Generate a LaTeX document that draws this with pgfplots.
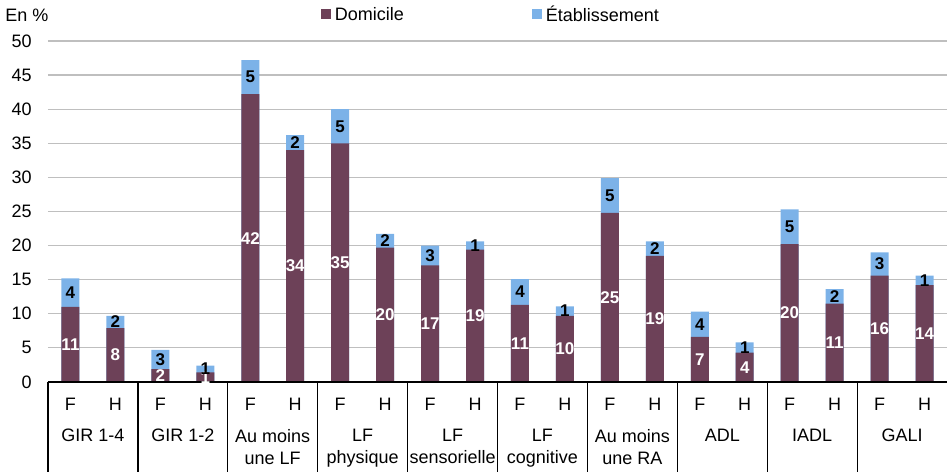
\documentclass[border=0pt]{standalone}
\usepackage{fontspec}
\setmainfont{Liberation Sans}
\usepackage{pgfplots}
\usepackage{pgfplotstable}
\pgfplotsset{compat=1.18}
\definecolor{dom}{RGB}{109,65,88}
\definecolor{etab}{RGB}{124,178,232}
\definecolor{gridc}{RGB}{191,191,191}

\pgfplotstableread{
x dom etab ld le
0 11.0 4.2 11 4
1 7.9 1.8 8 2
2 1.9 2.8 2 3
3 1.4 1.0 1 1
4 42.2 5.0 42 5
5 34.0 2.2 34 2
6 35.0 5.0 35 5
7 19.7 2.0 20 2
8 17.1 2.9 17 3
9 19.4 1.2 19 1
10 11.3 3.8 11 4
11 9.7 1.4 10 1
12 24.8 5.1 25 5
13 18.5 2.1 19 2
14 6.6 3.7 7 4
15 4.3 1.5 4 1
16 20.2 5.1 20 5
17 11.5 2.1 11 2
18 15.6 3.4 16 3
19 14.2 1.4 14 1
}\data

\begin{document}
\begin{tikzpicture}
\begin{axis}[
  name=ax,
  width=449.5pt, height=170.5pt, scale only axis,
  xmin=-0.5, xmax=19.5, ymin=0, ymax=50,
  clip=false,
  axis line style={draw=none},
  major tick length=0pt,
  ytick={0,5,...,50},
  ymajorgrids, major grid style={gridc, line width=0.6pt},
  xtick={0,...,19},
  xticklabels={F,H,F,H,F,H,F,H,F,H,F,H,F,H,F,H,F,H,F,H},
  xticklabel style={yshift=-4.7pt},
  yticklabel style={inner sep=0pt, xshift=-8pt},
  tick label style={font=\fontsize{9}{11}\selectfont},
  /pgf/number format/assume math mode=true,
  legend style={draw=none, fill=none, at={(0.4939,1.0748)}, anchor=center,
    font=\fontsize{9}{11}\selectfont,
    /tikz/every even column/.append style={column sep=62pt}},
  legend columns=2,
]
\addplot[ybar, bar width=9pt, bar shift=0pt, fill=etab, draw=none, forget plot]
  table[x=x, y expr=\thisrow{dom}+\thisrow{etab}] {\data};
\addplot[ybar, bar width=9pt, bar shift=0pt, fill=dom, draw=none, forget plot]
  table[x=x, y=dom] {\data};
\addplot[draw=none, mark=none, forget plot, nodes near coords, point meta=explicit symbolic,
  every node near coord/.append style={anchor=center, inner sep=0pt, text=white,
    font=\bfseries\fontsize{8.5}{10}\selectfont}]
  table[x=x, y expr=\thisrow{dom}/2, meta=ld] {\data};
\addplot[draw=none, mark=none, forget plot, nodes near coords, point meta=explicit symbolic,
  every node near coord/.append style={anchor=center, inner sep=0pt, text=black,
    font=\bfseries\fontsize{8.5}{10}\selectfont}]
  table[x=x, y expr=\thisrow{dom}+\thisrow{etab}/2, meta=le] {\data};
\addlegendimage{legend image code/.code={\fill[dom] (0pt,-1.5pt) rectangle (4.5pt,3pt);}}
\addlegendentry{Domicile}
\addlegendimage{legend image code/.code={\fill[etab] (0pt,-1.5pt) rectangle (4.5pt,3pt);}}
\addlegendentry{Établissement}
\draw[black, line width=0.6pt] (axis cs:-0.5,0) -- (axis cs:19.5,0);
\draw[black, line width=0.6pt] (axis cs:-0.5,0) -- ([yshift=-45pt]axis cs:-0.5,0);
\draw[black, line width=0.6pt] (axis cs:1.5,0) -- ([yshift=-45pt]axis cs:1.5,0);
\draw[black, line width=0.6pt] (axis cs:3.5,0) -- ([yshift=-45pt]axis cs:3.5,0);
\draw[black, line width=0.6pt] (axis cs:5.5,0) -- ([yshift=-45pt]axis cs:5.5,0);
\draw[black, line width=0.6pt] (axis cs:7.5,0) -- ([yshift=-45pt]axis cs:7.5,0);
\draw[black, line width=0.6pt] (axis cs:9.5,0) -- ([yshift=-45pt]axis cs:9.5,0);
\draw[black, line width=0.6pt] (axis cs:11.5,0) -- ([yshift=-45pt]axis cs:11.5,0);
\draw[black, line width=0.6pt] (axis cs:13.5,0) -- ([yshift=-45pt]axis cs:13.5,0);
\draw[black, line width=0.6pt] (axis cs:15.5,0) -- ([yshift=-45pt]axis cs:15.5,0);
\draw[black, line width=0.6pt] (axis cs:17.5,0) -- ([yshift=-45pt]axis cs:17.5,0);
\tikzset{grp/.style={anchor=north, inner sep=0pt, align=center, font=\fontsize{9}{11}\selectfont, yshift=-23.5pt}}
\node[grp] at (axis cs:0.5,0) {GIR 1-4};
\node[grp] at (axis cs:2.5,0) {GIR 1-2};
\node[grp] at (axis cs:4.5,0) {Au moins\\une LF};
\node[grp] at (axis cs:6.5,0) {LF\\physique};
\node[grp] at (axis cs:8.5,0) {LF\\sensorielle};
\node[grp] at (axis cs:10.5,0) {LF\\cognitive};
\node[grp] at (axis cs:12.5,0) {Au moins\\une RA};
\node[grp] at (axis cs:14.5,0) {ADL};
\node[grp] at (axis cs:16.5,0) {IADL};
\node[grp] at (axis cs:18.5,0) {GALI};
\node[anchor=west, inner sep=0pt, font=\fontsize{9}{11}\selectfont, xshift=-21.5pt, yshift=12.75pt] at (rel axis cs:0,1) {En \%};
\end{axis}
\pgfresetboundingbox
\path ([xshift=-24pt,yshift=-45pt]ax.south west) rectangle ([yshift=20.5pt]ax.north east);
\end{tikzpicture}
\end{document}
